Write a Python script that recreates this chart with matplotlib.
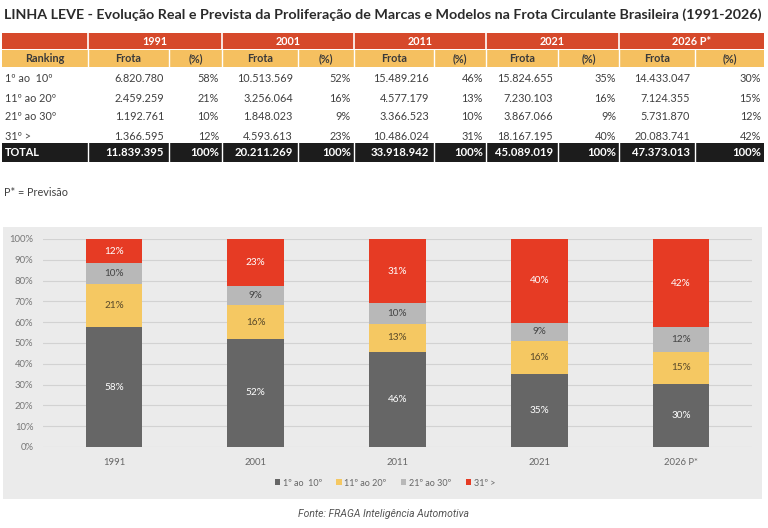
import matplotlib.pyplot as plt
from matplotlib.patches import Rectangle
import numpy as np

plt.rcParams['font.family'] = ['Lato', 'DejaVu Sans']

years = ['1991', '2001', '2011', '2021', '2026 P*']
ranks = ['1º ao  10º', '11º ao 20º', '21º ao 30º', '31º >']
frota_1_10 = [6820780, 10513569, 15489216, 15824655, 14433047]
frota_11_20 = [2459259, 3256064, 4577179, 7230103, 7124355]
frota_21_30 = [1192761, 1848023, 3366523, 3867066, 5731870]
frota_31 = [1366595, 4593613, 10486024, 18167195, 20083741]
pct_1_10 = [58, 52, 46, 35, 30]
pct_11_20 = [21, 16, 13, 16, 15]
pct_21_30 = [10, 9, 10, 9, 12]
pct_31 = [12, 23, 31, 40, 42]
totals = [11839395, 20211269, 33918942, 45089019, 47373013]

frotas = [frota_1_10, frota_11_20, frota_21_30, frota_31]
pcts = [pct_1_10, pct_11_20, pct_21_30, pct_31]
colors = ['#666666', '#f5c862', '#b8b8b8', '#e63b24']
text_colors = ['white', '#5a4a2a', '#444444', 'white']


def fmt(v):
    return f"{v:,}".replace(',', '.')


fig = plt.figure(figsize=(7.68, 5.28), dpi=100)

# overlay in pixel coords for the table and background panel
bg = fig.add_axes([0, 0, 1, 1])
bg.set_xlim(0, 768)
bg.set_ylim(528, 0)
bg.axis('off')

bg.text(4, 15, 'LINHA LEVE - Evolução Real e Prevista da Proliferação de Marcas e Modelos na Frota Circulante Brasileira (1991-2026)',
        fontsize=10.3, fontweight='bold', color='#2a2a2a', va='center', ha='left')

edges = [2, 88, 169, 222, 298, 354, 434, 486, 558, 619, 695, 764]
red_h = '#d6492b'
yel_h = '#f5c060'
fs = 7.8

# header rows
bg.add_patch(Rectangle((edges[0], 33), edges[-1] - edges[0], 16, color=red_h, lw=0))
bg.add_patch(Rectangle((edges[0], 49.5), edges[-1] - edges[0], 17.5, color=yel_h, lw=0))
bg.add_patch(Rectangle((edges[0], 143), edges[-1] - edges[0], 19, color='#1c1c1c', lw=0))
for i in range(5):
    l, r = edges[1 + 2 * i], edges[3 + 2 * i]
    bg.text((l + r) / 2, 41.5, years[i], fontsize=fs, fontweight='bold', color='white', ha='center', va='center')
    bg.plot([l, l], [33, 49], color='white', lw=1.2)
for x in edges[1:-1]:
    bg.plot([x, x], [49.5, 67], color='white', lw=1)
    bg.plot([x, x], [143, 162], color='white', lw=1)
bg.plot([edges[0], edges[-1]], [49.3, 49.3], color='white', lw=0.6)

bg.text((edges[0] + edges[1]) / 2, 58.5, 'Ranking', fontsize=fs, fontweight='bold', color='#3a3a3a', ha='center', va='center')
for i in range(5):
    a, b, c = edges[1 + 2 * i], edges[2 + 2 * i], edges[3 + 2 * i]
    bg.text((a + b) / 2, 58.5, 'Frota', fontsize=fs, fontweight='bold', color='#3a3a3a', ha='center', va='center')
    bg.text((b + c) / 2, 58.5, '(%)', fontsize=fs, fontweight='bold', color='#3a3a3a', ha='center', va='center')

row_y = [79, 98, 117, 136]
for j in range(4):
    bg.text(5, row_y[j], ranks[j], fontsize=fs, color='#404040', ha='left', va='center')
    for i in range(5):
        b, c = edges[2 + 2 * i], edges[3 + 2 * i]
        bg.text(b - 5, row_y[j], fmt(frotas[j][i]), fontsize=fs, color='#404040', ha='right', va='center')
        bg.text(c - 3, row_y[j], f"{pcts[j][i]}%", fontsize=fs, color='#404040', ha='right', va='center')

bg.text(5, 152.5, 'TOTAL', fontsize=fs, fontweight='bold', color='white', ha='left', va='center')
for i in range(5):
    b, c = edges[2 + 2 * i], edges[3 + 2 * i]
    bg.text(b - 5, 152.5, fmt(totals[i]), fontsize=8.2, fontweight='bold', color='white', ha='right', va='center')
    bg.text(c - 3, 152.5, '100%', fontsize=8.2, fontweight='bold', color='white', ha='right', va='center')

bg.text(4, 193, 'P* = Previsão', fontsize=fs, color='#404040', ha='left', va='center')

# grey panel behind chart
bg.add_patch(Rectangle((3, 227), 759, 272, color='#ebebeb', lw=0))

bg.text(384, 514, 'Fonte: FRAGA Inteligência Automotiva', fontsize=7.5, style='italic',
        color='#555555', ha='center', va='center', family=['Roboto', 'DejaVu Sans'])

# chart
ax = fig.add_axes([43 / 768, (528 - 447) / 528, (752 - 43) / 768, (447 - 239) / 528])
ax.set_facecolor('none')
x = np.arange(len(years))
bottom = np.zeros(len(years))
handles = []
for j in range(4):
    h = np.array(frotas[j]) / np.array(totals)
    bars = ax.bar(x, h, 0.4, bottom=bottom, color=colors[j], zorder=3, label=ranks[j])
    ax.bar_label(bars, labels=[f"{p}%" for p in pcts[j]], label_type='center',
                 fontsize=7.2, color=text_colors[j])
    bottom += h
    handles.append(bars)

ax.set_xlim(-0.5, 4.5)
ax.set_ylim(0, 1)
ax.set_yticks(np.arange(0, 1.01, 0.1))
ax.set_yticklabels([f"{int(round(v * 100))}%" for v in np.arange(0, 1.01, 0.1)])
ax.set_xticks(x)
ax.set_xticklabels(years)
ax.grid(axis='y', color='#d2d2d2', lw=0.8, zorder=0)
ax.tick_params(axis='y', length=0, pad=7, labelsize=6.8, labelcolor='#777777')
ax.tick_params(axis='x', length=0, pad=8, labelsize=6.8, labelcolor='#666666')
for s in ax.spines.values():
    s.set_visible(False)

fig.legend(handles=handles, labels=ranks, loc='center', bbox_to_anchor=(385 / 768, 1 - 483 / 528),
           ncol=4, frameon=False, fontsize=6.5, labelcolor='#666666', handlelength=0.6,
           handleheight=0.6, handletextpad=0.3, columnspacing=1.6)

fig.savefig('out.png', dpi=100)
